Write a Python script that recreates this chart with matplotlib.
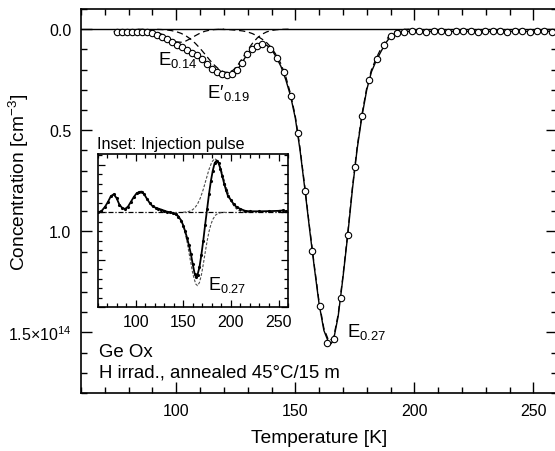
import numpy as np
import matplotlib
matplotlib.use('Agg')
import matplotlib.pyplot as plt
from matplotlib.ticker import MultipleLocator, NullFormatter

plt.rcParams['font.family'] = ['Liberation Sans', 'DejaVu Sans']
plt.rcParams['mathtext.fontset'] = 'custom'
plt.rcParams['mathtext.rm'] = 'Liberation Sans'
plt.rcParams['mathtext.it'] = 'Liberation Sans:italic'

# ---- main panel: measured points (open circles), units of 1e14 cm^-3
circ_T = [75.0, 77.2, 79.3, 81.4, 83.5, 85.6, 87.7, 89.8, 91.9, 94.0, 96.1, 98.2,
          100.3, 102.4, 104.5, 106.6, 108.7, 110.8, 112.9, 115.0, 117.1, 119.2,
          121.3, 123.4, 125.5, 127.6, 129.7, 131.8, 133.9, 136.0, 139.4, 142.2,
          145.3, 148.2, 151.2, 154.1, 157.1, 160.4, 163.5, 166.3, 169.2, 172.2,
          175.1, 178.1, 181.0, 184.4, 187.4, 190.1, 192.8, 195.7, 198.8, 201.9,
          205.0, 208.1, 211.2, 214.3, 217.4, 220.5, 223.6, 226.7, 229.8, 232.9,
          236.0, 239.1, 242.2, 245.3, 248.4, 251.5, 254.6, 257.7]
circ_C = [0.012, 0.012, 0.012, 0.012, 0.012, 0.013, 0.015, 0.019, 0.027, 0.038, 0.050, 0.065,
          0.079, 0.090, 0.103, 0.116, 0.130, 0.150, 0.172, 0.195, 0.212, 0.222,
          0.228, 0.221, 0.200, 0.168, 0.125, 0.097, 0.081, 0.074, 0.096, 0.142,
          0.211, 0.330, 0.513, 0.800, 1.095, 1.367, 1.550, 1.533, 1.330, 1.020,
          0.680, 0.430, 0.250, 0.148, 0.080, 0.034, 0.020, 0.013, 0.011, 0.011,
          0.012, 0.011, 0.011, 0.012, 0.011, 0.011, 0.011, 0.012, 0.011, 0.011,
          0.011, 0.012, 0.011, 0.011, 0.012, 0.011, 0.011, 0.012]

# fitted sum (solid line)
fit_T = [74, 76, 78, 80, 82, 84, 86, 88, 90, 92, 94, 96, 98, 100, 102, 104, 106, 108,
         110, 112, 114, 116, 118, 120, 122, 124, 126, 128, 130, 132, 134, 136, 138,
         140, 142, 144, 146, 148, 150, 152, 154, 156, 158, 160, 162, 164, 165, 166,
         168, 170, 172, 174, 176, 178, 180, 182, 184, 186, 188, 190, 192, 194, 196,
         198, 200, 260]
fit_C = [0.012, 0.012, 0.012, 0.012, 0.012, 0.012, 0.013, 0.015, 0.020, 0.028, 0.038,
         0.050, 0.064, 0.077, 0.088, 0.100, 0.112, 0.125, 0.142, 0.162, 0.185, 0.205,
         0.218, 0.226, 0.228, 0.218, 0.195, 0.158, 0.120, 0.095, 0.080, 0.074, 0.080,
         0.100, 0.138, 0.185, 0.250, 0.330, 0.440, 0.600, 0.790, 0.990, 1.180, 1.360,
         1.490, 1.550, 1.555, 1.540, 1.420, 1.230, 1.020, 0.790, 0.590, 0.430, 0.300,
         0.210, 0.155, 0.110, 0.068, 0.036, 0.022, 0.015, 0.012, 0.011, 0.011, 0.011]

# fitted components (dashed)
e14_T = np.arange(84, 122, 2)
e14_C = [0.0004, 0.0012, 0.0032, 0.0073, 0.0146, 0.0257, 0.0394, 0.0531, 0.0626, 0.0647,
         0.0586, 0.0465, 0.0323, 0.0197, 0.0105, 0.0050, 0.0020, 0.0007, 0.0002]
e19_T = np.arange(92, 150, 2)
e19_C = [0.001, 0.002, 0.0039, 0.0071, 0.0124, 0.0205, 0.0325, 0.049, 0.070, 0.095,
         0.123, 0.152, 0.178, 0.199, 0.212, 0.2145, 0.202, 0.175, 0.140, 0.103, 0.070,
         0.0437, 0.0252, 0.0134, 0.0065, 0.0029, 0.0012, 0.0005, 0.0]
e27_T = np.arange(118, 200, 2)
e27_C = [0.001, 0.0015, 0.002, 0.004, 0.006, 0.009, 0.014, 0.022, 0.034, 0.049, 0.067,
         0.092, 0.128, 0.172, 0.235, 0.320, 0.430, 0.590, 0.780, 0.980, 1.170, 1.350,
         1.480, 1.540, 1.530, 1.410, 1.220, 1.010, 0.780, 0.580, 0.420, 0.290, 0.200,
         0.143, 0.095, 0.056, 0.025, 0.011, 0.004, 0.001, 0.0]

# ---- inset: injection pulse spectrum (arb. units)
ins_T = [60, 64, 68, 71, 74, 77, 80, 83, 86, 89, 92, 95, 98, 101, 104, 106.5, 109, 112,
         115, 118, 121, 124, 127, 130, 133, 136, 139, 142, 145, 148, 150, 152, 154, 156,
         158, 160, 162, 163.5, 165, 167, 169, 171, 173, 175, 177, 179, 181, 183, 185,
         187, 189, 191, 193, 195, 197, 200, 203, 206, 210, 215, 220, 230, 240, 250, 255, 258]
ins_S = [0.0, 0.01, 0.06, 0.11, 0.17, 0.19, 0.15, 0.08, 0.045, 0.035, 0.06, 0.11, 0.16,
         0.20, 0.215, 0.218, 0.19, 0.14, 0.095, 0.062, 0.048, 0.038, 0.028, 0.017, 0.006,
         0.0, -0.01, -0.022, -0.045, -0.09, -0.14, -0.20, -0.27, -0.35, -0.44, -0.55,
         -0.65, -0.685, -0.66, -0.58, -0.45, -0.30, -0.13, 0.03, 0.19, 0.33, 0.44, 0.52,
         0.545, 0.52, 0.46, 0.38, 0.30, 0.23, 0.17, 0.13, 0.085, 0.055, 0.035, 0.015,
         0.01, 0.01, 0.012, 0.015, 0.02, 0.01]
pos_T = [150, 153, 156, 159, 162, 165, 168, 171, 174, 177, 180, 183, 186, 189, 192, 195,
         198, 201, 204, 207, 210, 213, 216, 220]
pos_S = [0.001, 0.0034, 0.0088, 0.021, 0.045, 0.087, 0.152, 0.241, 0.347, 0.451, 0.531,
         0.566, 0.545, 0.476, 0.376, 0.268, 0.174, 0.102, 0.054, 0.026, 0.011, 0.0044,
         0.0016, 0.0]
neg_T = [136, 139, 142, 145, 148, 151, 154, 157, 160, 163, 165, 167, 169, 171, 173, 175,
         177, 179, 181, 184, 187, 190, 194]
neg_S = [-0.001, -0.004, -0.013, -0.036, -0.086, -0.175, -0.312, -0.482, -0.647, -0.756,
         -0.775, -0.742, -0.663, -0.551, -0.426, -0.307, -0.206, -0.129, -0.075, -0.029,
         -0.0097, -0.003, 0.0]

fig = plt.figure(figsize=(5.55, 4.52), dpi=100)
ax = fig.add_axes([0.146, 0.128, 0.858, 0.850])

ax.axhline(0, color='black', lw=1.0, zorder=1)
ax.plot(e14_T, e14_C, color='black', lw=0.9, ls=(0, (5, 3)), zorder=2)
ax.plot(e19_T, e19_C, color='black', lw=0.9, ls=(0, (5, 3)), zorder=2)
ax.plot(e27_T, e27_C, color='black', lw=0.9, ls=(0, (5, 3)), zorder=2)
ax.plot(fit_T, fit_C, color='black', lw=1.0, zorder=3)
ax.plot(circ_T, circ_C, 'o', ms=4.6, mfc='white', mec='black', mew=0.8, zorder=4)

ax.set_xlim(60, 260)
ax.set_ylim(1.8, -0.1)
ax.xaxis.set_major_locator(MultipleLocator(50))
ax.xaxis.set_minor_locator(MultipleLocator(10))
ax.yaxis.set_major_locator(MultipleLocator(0.5))
ax.yaxis.set_minor_locator(MultipleLocator(0.1))
ax.set_yticks([0.0, 0.5, 1.0, 1.5])
ax.set_yticklabels(['0.0', '0.5', '1.0', r'1.5×10$^{\mathregular{14}}$'])
ax.tick_params(which='both', direction='in', top=True, right=True, labelsize=11.5, width=1.0)
ax.tick_params(which='major', length=8, pad=7)
ax.tick_params(which='minor', length=4)
for s in ax.spines.values():
    s.set_linewidth(1.2)

ax.set_xlabel('Temperature [K]', fontsize=13.8, labelpad=8)
ax.set_ylabel(r'Concentration [cm$^{\mathregular{-3}}$]', fontsize=13.8)
ax.yaxis.set_label_coords(-0.106, 0.55)

ax.text(92.4, 0.17, r'E$_{\mathregular{0.14}}$', fontsize=13.4, va='baseline')
ax.text(112.8, 0.335, r'E′$_{\mathregular{0.19}}$', fontsize=13.4, va='baseline')
ax.text(171.9, 1.518, r'E$_{\mathregular{0.27}}$', fontsize=13.4, va='baseline')
ax.text(0.038, 0.097, 'Ge Ox', transform=ax.transAxes, fontsize=13.4, va='baseline')
ax.text(0.038, 0.0435, 'H irrad., annealed 45°C/15 m', transform=ax.transAxes,
        fontsize=13.4, va='baseline')

# inset
axi = fig.add_axes([0.1757, 0.3186, 0.3433, 0.3374])
axi.axhline(0, color='black', lw=0.9, ls=(0, (4, 1.5, 1, 1.5)), zorder=1)
axi.plot(pos_T, pos_S, color='0.3', lw=0.8, ls=(0, (2.5, 1.5)), zorder=2)
axi.plot(neg_T, neg_S, color='0.3', lw=0.8, ls=(0, (2.5, 1.5)), zorder=2)
axi.plot(ins_T, ins_S, color='black', lw=1.3, marker='.', ms=2.5, zorder=3)
axi.set_xlim(60, 260)
axi.set_ylim(-1.0, 0.61)
axi.xaxis.set_major_locator(MultipleLocator(50))
axi.xaxis.set_minor_locator(MultipleLocator(10))
axi.yaxis.set_major_locator(MultipleLocator(0.5))
axi.yaxis.set_minor_locator(MultipleLocator(0.1))
axi.yaxis.set_major_formatter(NullFormatter())
axi.tick_params(which='both', direction='in', top=True, right=True, labelsize=11.5, width=0.9)
axi.tick_params(which='major', length=5, pad=5)
axi.tick_params(which='minor', length=3)
for s in axi.spines.values():
    s.set_linewidth(1.2)
axi.text(-0.003, 1.041, 'Inset: Injection pulse', transform=axi.transAxes,
         fontsize=11.6, va='baseline')
axi.text(176.3, -0.807, r'E$_{\mathregular{0.27}}$', fontsize=13.0, va='baseline')

fig.savefig('out.png', dpi=100)
